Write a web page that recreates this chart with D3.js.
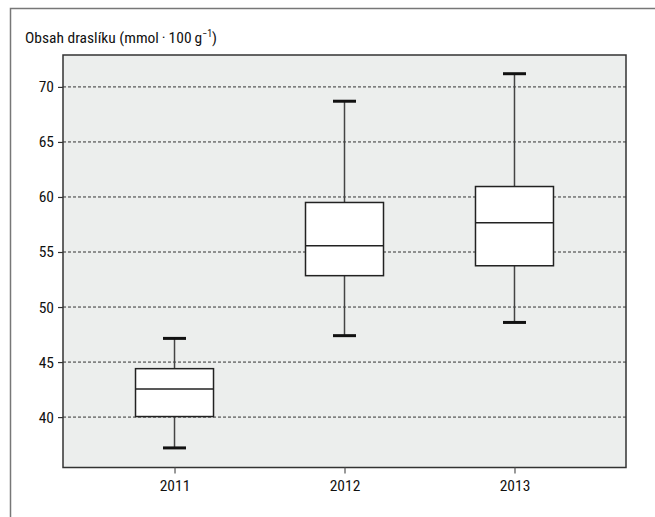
<!DOCTYPE html>
<html>
<head>
<meta charset="utf-8">
<script src="https://cdn.jsdelivr.net/npm/d3@7"></script>
<style>
  body { margin: 0; background: #fff; }
  svg text { font-family: "Liberation Sans Narrow", "Roboto Condensed", "Arial Narrow", "Liberation Sans", sans-serif; fill: #111; }
</style>
</head>
<body>
<svg id="chart" width="655" height="517"></svg>
<script>
// Potassium content by year: whisker ends, quartiles and median
const years = ["2011", "2012", "2013"];
const whiskerLow = [37.2, 47.4, 48.6];
const quartile1 = [40.05, 52.85, 53.75];
const medians = [42.55, 55.57, 57.66];
const quartile3 = [44.4, 59.5, 60.95];
const whiskerHigh = [47.15, 68.7, 71.2];
const yTicks = [40, 45, 50, 55, 60, 65, 70];

const svg = d3.select("#chart");
const plot = { left: 63, right: 626, top: 55, bottom: 467.5 };

// Outer frame (open toward the right and bottom edges)
svg.append("path")
  .attr("d", "M10.5,517 L10.5,8.5 L655,8.5")
  .attr("fill", "none").attr("stroke", "#777").attr("stroke-width", 1.5);

const x = d3.scalePoint().domain(years).range([plot.left, plot.right]).padding(0.656);
const y = d3.scaleLinear().domain([35.42, 72.9]).range([plot.bottom, plot.top]);

// Plot background
svg.append("rect")
  .attr("x", plot.left).attr("y", plot.top)
  .attr("width", plot.right - plot.left).attr("height", plot.bottom - plot.top)
  .attr("fill", "#eceeed");

// Dashed grid lines
svg.append("g").selectAll("line").data(yTicks).join("line")
  .attr("x1", plot.left).attr("x2", plot.right)
  .attr("y1", d => y(d)).attr("y2", d => y(d))
  .attr("stroke", "#333").attr("stroke-width", 1).attr("stroke-dasharray", "3,2");

// Plot frame
svg.append("rect")
  .attr("x", plot.left).attr("y", plot.top)
  .attr("width", plot.right - plot.left).attr("height", plot.bottom - plot.top)
  .attr("fill", "none").attr("stroke", "#333").attr("stroke-width", 1.5);

// Y axis
const yAxis = svg.append("g").attr("transform", `translate(${plot.left},0)`)
  .call(d3.axisLeft(y).tickValues(yTicks).tickSize(5).tickPadding(4));
yAxis.select(".domain").remove();
yAxis.selectAll(".tick line").attr("stroke", "#333").attr("stroke-width", 1.2);
yAxis.selectAll(".tick text").attr("font-size", 15.5).attr("fill", "#111");

// X axis
const xAxis = svg.append("g").attr("transform", `translate(0,${plot.bottom})`)
  .call(d3.axisBottom(x).tickSize(6).tickPadding(6));
xAxis.select(".domain").remove();
xAxis.selectAll(".tick line").attr("stroke", "#555").attr("stroke-width", 1.2);
xAxis.selectAll(".tick text").attr("font-size", 15.5).attr("fill", "#111");

// Boxes
const boxHalf = 39, capHalf = 11.5;
const g = svg.append("g");
years.forEach((yr, i) => {
  const cx = x(yr);
  g.append("line").attr("x1", cx).attr("x2", cx)
    .attr("y1", y(whiskerHigh[i])).attr("y2", y(quartile3[i]))
    .attr("stroke", "#444").attr("stroke-width", 1.5);
  g.append("line").attr("x1", cx).attr("x2", cx)
    .attr("y1", y(quartile1[i])).attr("y2", y(whiskerLow[i]))
    .attr("stroke", "#444").attr("stroke-width", 1.5);
  [whiskerHigh[i], whiskerLow[i]].forEach(v => {
    g.append("line").attr("x1", cx - capHalf).attr("x2", cx + capHalf)
      .attr("y1", y(v)).attr("y2", y(v))
      .attr("stroke", "#111").attr("stroke-width", 3);
  });
  g.append("rect")
    .attr("x", cx - boxHalf).attr("width", boxHalf * 2)
    .attr("y", y(quartile3[i])).attr("height", y(quartile1[i]) - y(quartile3[i]))
    .attr("fill", "#fff").attr("stroke", "#222").attr("stroke-width", 1.5);
  g.append("line").attr("x1", cx - boxHalf).attr("x2", cx + boxHalf)
    .attr("y1", y(medians[i])).attr("y2", y(medians[i]))
    .attr("stroke", "#222").attr("stroke-width", 1.5);
});

// Axis title
const title = svg.append("text").attr("x", 25).attr("y", 43).attr("font-size", 15.5);
title.append("tspan").text("Obsah draslíku (mmol\u2009·\u2009100\u2009g");
title.append("tspan").attr("dy", -6).attr("font-size", 10).text("\u22121");
title.append("tspan").attr("dy", 6).text(")");
</script>
</body>
</html>
